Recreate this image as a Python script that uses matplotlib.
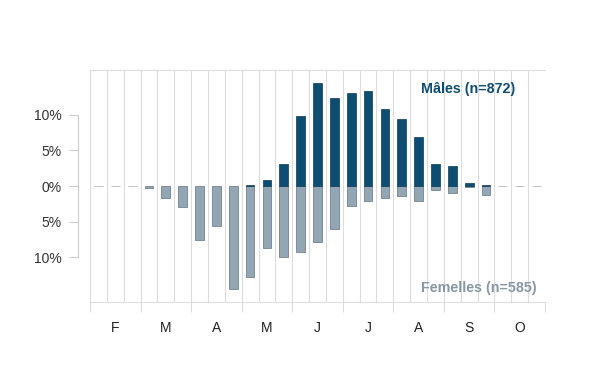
import numpy as np
import matplotlib
matplotlib.use("Agg")
import matplotlib.pyplot as plt

plt.rcParams['font.family'] = ['Liberation Sans', 'DejaVu Sans']

# Monthly periods split in thirds (decades), February to October
months = ['F', 'M', 'A', 'M', 'J', 'J', 'A', 'S', 'O']
# share of captures per decade (%), males drawn up, females drawn down
males = [0, 0, 0, 0, 0, 0, 0, 0, 0,
         0.15, 0.85, 3.15, 9.9, 14.5, 12.3, 13.1, 13.3, 10.8,
         9.4, 6.9, 3.1, 2.8, 0.45, 0.15, 0, 0, 0]
females = [0, 0, 0, 0.35, 1.7, 3.0, 7.6, 5.65, 14.5,
           12.8, 8.75, 10.0, 9.3, 7.8, 6.05, 2.75, 2.1, 1.7,
           1.35, 2.1, 0.5, 1.05, 0.1, 1.2, 0, 0, 0]
y_ticks = [-10, -5, 0, 5, 10]
label_males = 'Mâles (n=872)'
label_females = 'Femelles (n=585)'

MALE_COL = '#0e4d72'
FEM_COL = '#92a6b4'
FEM_EDGE = '#73838f'
ZERO_COL = '#b8b8b8'
GRID_COL = '#dcdcdc'

fig = plt.figure(figsize=(6, 3.9), dpi=100)
ax = fig.add_axes([90 / 600, 1 - 302 / 390, 455 / 600, 232 / 390])

n = len(males)
x = np.arange(n) + 0.5
males = np.array(males)
females = np.array(females)

# vertical grid at every decade
ax.vlines(np.arange(n + 1), -16.3, 16.3, color=GRID_COL, lw=0.8, zorder=0)

fem_edges = [ZERO_COL if v == 0 else FEM_EDGE for v in females]
ax.bar(x, -females, width=0.52, color=FEM_COL, edgecolor=fem_edges,
       linewidth=0.6, zorder=2)
mask = males > 0
ax.bar(x[mask], males[mask], width=0.52, color=MALE_COL,
       edgecolor='#0a3a58', linewidth=0.5, zorder=3)

ax.set_xlim(0, n)
ax.set_ylim(-16.3, 16.3)

# y axis: detached light spine
ax.spines['left'].set_position(('outward', 9))
ax.spines['left'].set_bounds(-10, 10)
ax.spines['left'].set_color('#cccccc')
ax.spines['right'].set_visible(False)
ax.spines['top'].set_color(GRID_COL)
ax.spines['bottom'].set_color(GRID_COL)
ax.set_yticks(y_ticks)
ax.set_yticklabels([f'{abs(v)}%' for v in y_ticks])
ax.tick_params(axis='y', length=6.5, width=0.8, color='#cccccc', pad=5,
               labelsize=10, labelcolor='#333333')

# x axis: month boundaries as ticks, labels centred in months
ax.set_xticks(np.arange(0, n + 1, 3))
ax.set_xticklabels([])
ax.set_xticks(np.arange(1.5, n, 3), minor=True)
ax.set_xticklabels(months, minor=True)
ax.tick_params(axis='x', which='major', length=7, width=0.8, color=GRID_COL)
ax.tick_params(axis='x', which='minor', length=0, pad=14,
               labelsize=10, labelcolor='#222222')

ax.text(0.7275, 0.917, label_males, transform=ax.transAxes, ha='left',
        va='center', fontsize=10.3, fontweight='bold', color=MALE_COL)
ax.text(0.7275, 0.0616, label_females, transform=ax.transAxes, ha='left',
        va='center', fontsize=10.3, fontweight='bold', color='#8797a4')

fig.savefig('out.png', dpi=100)
